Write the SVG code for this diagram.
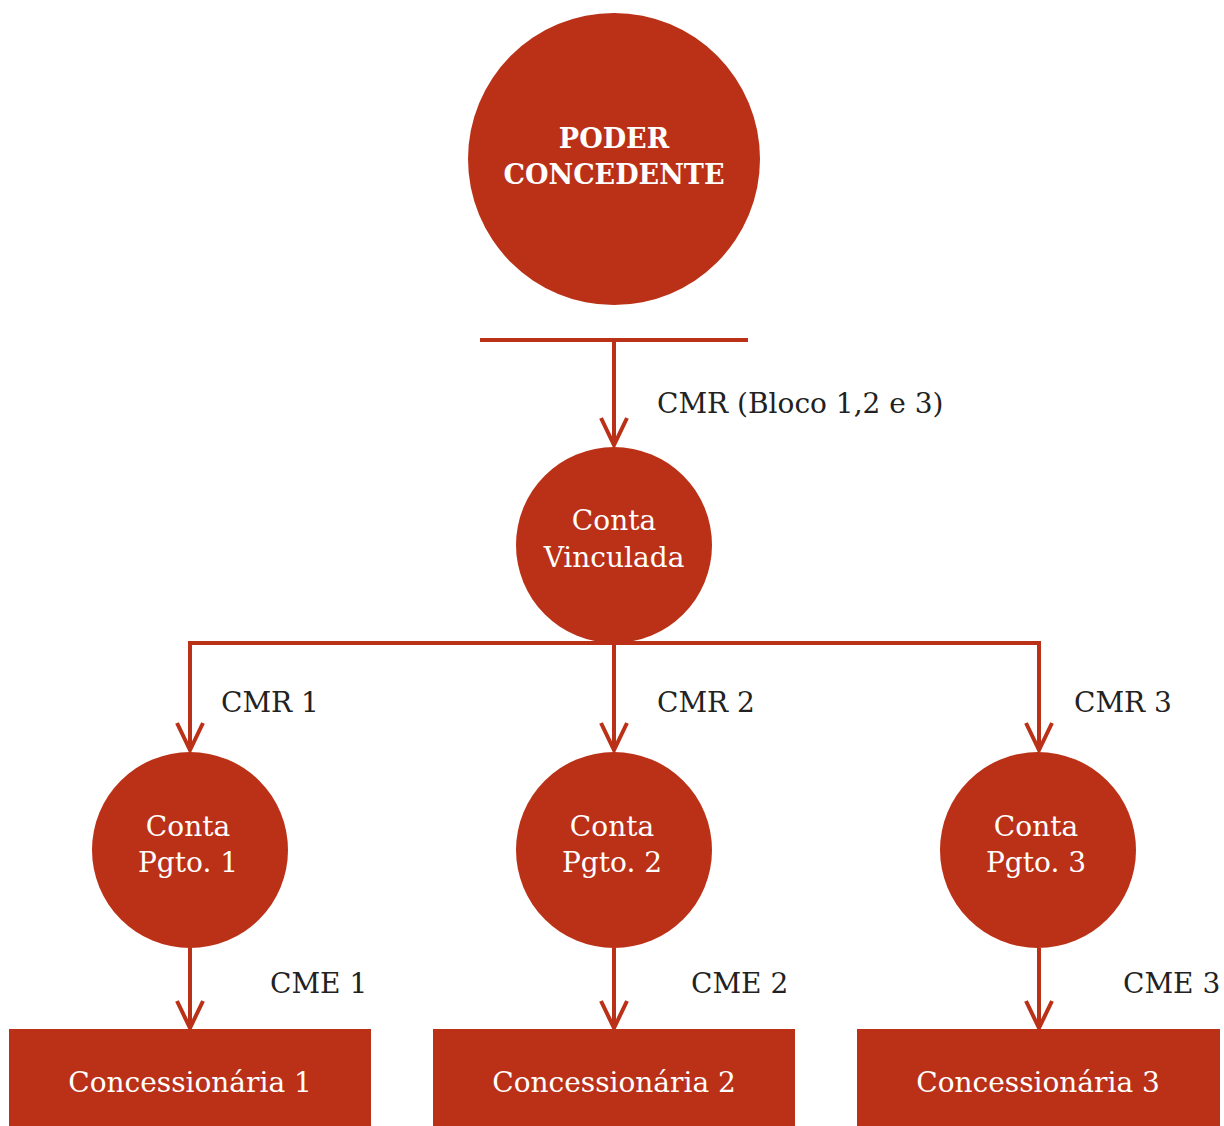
<svg xmlns="http://www.w3.org/2000/svg" width="1224" height="1126" viewBox="0 0 1224 1126">
<style>
.node{fill:#BB3118}
.wt{fill:#ffffff;font-family:"DejaVu Serif",serif;font-size:28px;text-anchor:middle}
.bt{font-weight:bold;font-size:27px}
.lbl{fill:#222222;font-family:"DejaVu Serif",serif;font-size:28px}
.ln{stroke:#BB3118;stroke-width:4;fill:none}
</style>
<defs>
<marker id="ah" markerUnits="userSpaceOnUse" viewBox="-30 -16 32 32" refX="0" refY="0" markerWidth="32" markerHeight="32" orient="auto">
<path d="M -27 -13 L 0 0 L -27 13" fill="none" stroke="#BB3118" stroke-width="4"/>
</marker>
</defs>
<rect width="1224" height="1126" fill="#ffffff"/>
<g id="connectors">
<line class="ln" x1="480" y1="340" x2="748" y2="340"/>
<line class="ln" x1="614" y1="340" x2="614" y2="445" marker-end="url(#ah)"/>
<polyline class="ln" points="190,750 190,643 1039,643 1039,750" marker-end="url(#ah)"/>
<line class="ln" x1="190" y1="643" x2="190" y2="750" marker-end="url(#ah)"/>
<line class="ln" x1="614" y1="643" x2="614" y2="750" marker-end="url(#ah)"/>
<line class="ln" x1="190" y1="948" x2="190" y2="1028" marker-end="url(#ah)"/>
<line class="ln" x1="614" y1="948" x2="614" y2="1028" marker-end="url(#ah)"/>
<line class="ln" x1="1039" y1="948" x2="1039" y2="1028" marker-end="url(#ah)"/>
<text class="lbl" x="657" y="413">CMR (Bloco 1,2 e 3)</text>
<text class="lbl" x="221" y="712">CMR 1</text>
<text class="lbl" x="657" y="712">CMR 2</text>
<text class="lbl" x="1074" y="712">CMR 3</text>
<text class="lbl" x="270" y="993">CME 1</text>
<text class="lbl" x="691" y="993">CME 2</text>
<text class="lbl" x="1123" y="993">CME 3</text>
</g>
<g id="poder-concedente">
<circle class="node" cx="614" cy="159" r="146"/>
<text class="wt bt" x="614" y="148">PODER</text>
<text class="wt bt" x="614" y="184">CONCEDENTE</text>
</g>
<g id="conta-vinculada">
<circle class="node" cx="614" cy="545" r="98"/>
<text class="wt" x="614" y="530">Conta</text>
<text class="wt" x="614" y="567">Vinculada</text>
</g>
<g id="conta-pgto-1">
<circle class="node" cx="190" cy="850" r="98"/>
<text class="wt" x="188" y="836">Conta</text>
<text class="wt" x="188" y="872">Pgto. 1</text>
</g>
<g id="conta-pgto-2">
<circle class="node" cx="614" cy="850" r="98"/>
<text class="wt" x="612" y="836">Conta</text>
<text class="wt" x="612" y="872">Pgto. 2</text>
</g>
<g id="conta-pgto-3">
<circle class="node" cx="1038" cy="850" r="98"/>
<text class="wt" x="1036" y="836">Conta</text>
<text class="wt" x="1036" y="872">Pgto. 3</text>
</g>
<g id="concessionaria-1">
<rect class="node" x="9" y="1029" width="362" height="97"/>
<text class="wt" x="190" y="1092">Concessionária 1</text>
</g>
<g id="concessionaria-2">
<rect class="node" x="433" y="1029" width="362" height="97"/>
<text class="wt" x="614" y="1092">Concessionária 2</text>
</g>
<g id="concessionaria-3">
<rect class="node" x="857" y="1029" width="363" height="97"/>
<text class="wt" x="1038" y="1092">Concessionária 3</text>
</g>
</svg>
